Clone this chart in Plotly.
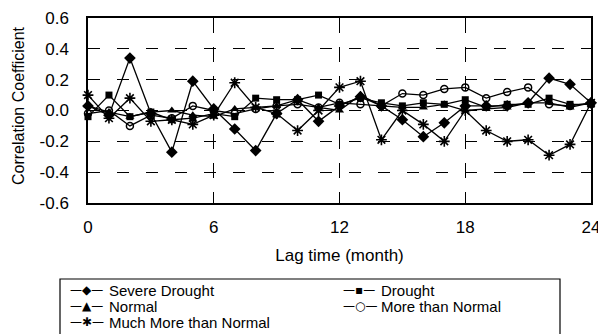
import plotly.graph_objects as go

months = list(range(25))
severe_drought = [0.03, -0.03, 0.34, -0.02, -0.27, 0.19, 0.01, -0.12, -0.26, -0.02, 0.07, -0.07, 0.03,
                  0.09, 0.03, -0.06, -0.17, -0.08, 0.03, 0.03, 0.03, 0.05, 0.21, 0.17, 0.05]
drought = [-0.04, 0.10, -0.04, -0.01, -0.06, -0.05, -0.02, -0.04, 0.08, 0.07, 0.07, 0.10, 0.04,
           0.08, 0.05, 0.03, 0.05, 0.04, 0.07, 0.02, 0.04, 0.04, 0.08, 0.04, 0.04]
normal = [0.03, -0.01, -0.04, -0.01, 0.0, -0.03, -0.04, 0.01, 0.02, 0.03, 0.07, 0.02, 0.0,
          0.10, 0.03, 0.02, 0.02, 0.04, 0.0, 0.01, 0.02, 0.05, 0.05, 0.02, 0.05]
more_than_normal = [-0.02, 0.0, -0.10, -0.03, -0.05, 0.03, 0.0, -0.02, 0.01, 0.03, 0.04, 0.02, 0.05,
                    0.04, 0.03, 0.11, 0.10, 0.14, 0.15, 0.08, 0.12, 0.15, 0.04, 0.03, 0.05]
much_more_than_normal = [0.10, -0.05, 0.08, -0.07, -0.06, -0.09, -0.03, 0.18, 0.02, -0.02, -0.13, 0.0, 0.15,
                         0.19, -0.19, 0.0, -0.09, -0.20, 0.0, -0.13, -0.20, -0.19, -0.29, -0.22, 0.05]

series_names = ["Severe Drought", "Drought", "Normal", "More than Normal", "Much More than Normal"]
x_tickvals = [0, 6, 12, 18, 24]
x_ticktext = ["0", "6", "12", "18", "24"]
y_tickvals = [0.6, 0.4, 0.2, 0.0, -0.2, -0.4, -0.6]
y_ticktext = ["0.6", "0.4", "0.2", "0.0", "-0.2", "-0.4", "-0.6"]
x_title = "Lag time (month)"
y_title = "Correlation Coefficient"

FONT = "Arial, Liberation Sans, sans-serif"

styles = [
    dict(symbol="diamond", size=9),
    dict(symbol="square", size=7),
    dict(symbol="triangle-up", size=8),
    dict(symbol="circle-open", size=7, line=dict(width=1.5, color="black")),
    dict(symbol="asterisk-open", size=9, line=dict(width=1.6, color="black")),
]
data = [severe_drought, drought, normal, more_than_normal, much_more_than_normal]

fig = go.Figure()
for name, vals, st in zip(series_names, data, styles):
    marker = dict(color="black", **st)
    fig.add_trace(go.Scatter(x=months, y=vals, mode="lines+markers", name=name,
                             line=dict(color="black", width=1.3), marker=marker,
                             cliponaxis=False, showlegend=False))

fig.update_layout(
    width=598, height=334, autosize=False,
    margin=dict(l=88, r=7, t=18, b=131),
    paper_bgcolor="white", plot_bgcolor="white",
    font=dict(family=FONT, color="black"),
    showlegend=False,
)
fig.update_xaxes(range=[0, 24], tickvals=x_tickvals, ticktext=x_ticktext, automargin=False,
                 showgrid=True, gridcolor="black", gridwidth=1, griddash="15px,14px",
                 showline=True, linecolor="black", linewidth=1.5, mirror=True,
                 zeroline=False, ticks="", tickfont=dict(size=17), ticklabelstandoff=8,
                 ticklabeloverflow="allow",
                 title=dict(text=x_title, font=dict(size=17), standoff=13))
fig.update_yaxes(range=[-0.6, 0.6], tickvals=y_tickvals, ticktext=y_ticktext, automargin=False,
                 showgrid=True, gridcolor="black", gridwidth=1, griddash="12px,17px",
                 showline=True, linecolor="black", linewidth=1.5, mirror=True,
                 zeroline=False, ticks="", tickfont=dict(size=17), ticklabelstandoff=14,
                 ticklabeloverflow="allow")

# paper coordinates computed from pixel positions
plot_l, plot_w, plot_b, plot_h = 88, 503, 203, 185
def px_x(x):
    return (x - plot_l) / plot_w
def px_y(y):
    return (plot_b - y) / plot_h

fig.add_annotation(xref="paper", yref="paper", x=px_x(18), y=px_y(106), textangle=-90,
                   xanchor="center", yanchor="middle", showarrow=False,
                   text=y_title, font=dict(size=16, family=FONT))

fig.add_shape(type="rect", xref="paper", yref="paper",
              x0=px_x(60), x1=px_x(560), y0=px_y(345), y1=px_y(279),
              line=dict(color="black", width=1.2), fillcolor="rgba(0,0,0,0)")

glyphs = ["◆", "▪", "▲", "○", "✱"]
positions = [(68, 108, 290), (341, 380, 290), (68, 108, 306), (341, 380, 306), (68, 108, 322)]
for name, g, (sx, tx, yy) in zip(series_names, glyphs, positions):
    fig.add_annotation(xref="paper", yref="paper", x=px_x(sx), y=px_y(yy),
                       xanchor="left", yanchor="middle", showarrow=False,
                       text="—" + g + "—", font=dict(size=12, family="DejaVu Sans"))
    fig.add_annotation(xref="paper", yref="paper", x=px_x(tx), y=px_y(yy),
                       xanchor="left", yanchor="middle", showarrow=False, borderpad=0,
                       text=name, font=dict(size=15, family=FONT))

fig.write_html("out.html", config={"displayModeBar": False},
               post_script="document.body.style.margin='0';")
